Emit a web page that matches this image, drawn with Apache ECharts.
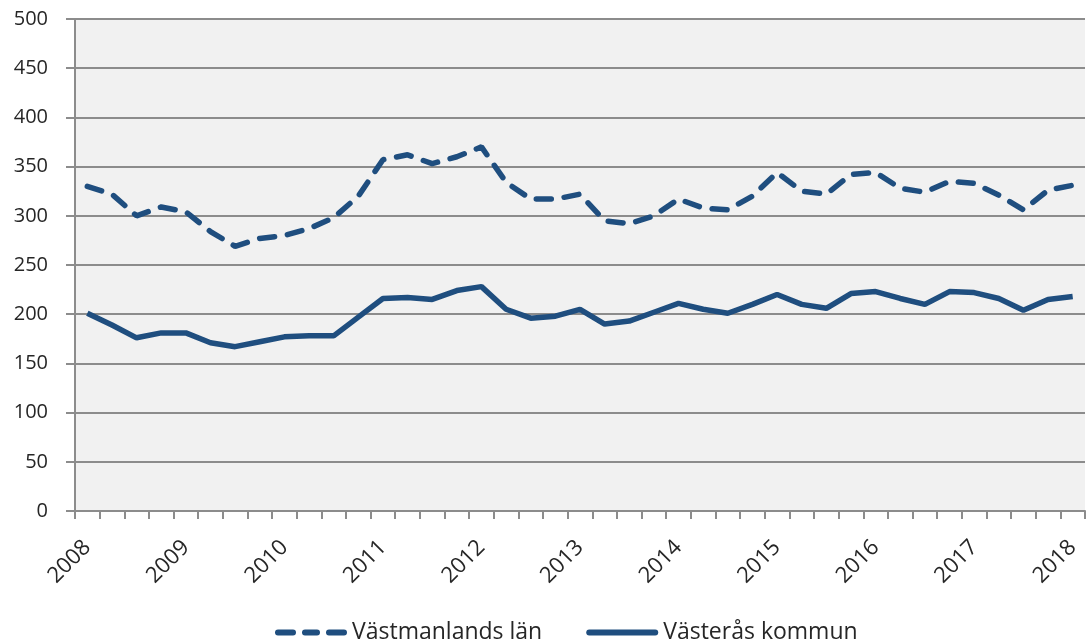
<!DOCTYPE html>
<html>
<head>
<meta charset="utf-8">
<script src="https://cdn.jsdelivr.net/npm/echarts@6/dist/echarts.min.js"></script>
<style>
html,body{margin:0;padding:0;background:#fff;}
#chart{width:1086px;height:640px;}
</style>
</head>
<body>
<div id="chart"></div>
<script>
const years = [2008, 2009, 2010, 2011, 2012, 2013, 2014, 2015, 2016, 2017, 2018];
const quarters = [];
for (const y of years) {
  for (let q = 1; q <= 4; q++) {
    if (y === 2018 && q > 1) break;
    quarters.push(y + ' K' + q);
  }
}
const vastmanland = [330, 322, 300, 309, 304, 284, 269, 277, 280, 287, 298, 320, 357, 362, 353, 360, 370, 334, 317, 317, 322, 295, 292, 300, 317, 308, 306, 320, 344, 325, 322, 342, 344, 328, 324, 335, 333, 321, 306, 326, 331];
const vasteras = [201, 189, 176, 181, 181, 171, 167, 172, 177, 178, 178, 197, 216, 217, 215, 224, 228, 205, 196, 198, 205, 190, 193, 202, 211, 205, 201, 210, 220, 210, 206, 221, 223, 216, 210, 223, 222, 216, 204, 215, 218];
const yTicks = {min: 0, max: 500, interval: 50};

const chart = echarts.init(document.getElementById('chart'));
const lineColor = '#1f4e7f';
const fontFam = 'Open Sans';
const textColor = '#262626';
const dashIcon = 'path://M3,0h15a3,3 0 0 1 0,6h-15a3,3 0 0 1 0,-6z M30,0h12a3,3 0 0 1 0,6h-12a3,3 0 0 1 0,-6z M54,0h15a3,3 0 0 1 0,6h-15a3,3 0 0 1 0,-6z';
const solidIcon = 'path://M3,0h66a3,3 0 0 1 0,6h-66a3,3 0 0 1 0,-6z';
chart.setOption({
  animation: false,
  grid: {left: 75, right: 1, top: 19, bottom: 129, show: true, backgroundColor: '#f1f1f1', borderWidth: 0},
  legend: {
    top: 616,
    left: 270,
    itemWidth: 72,
    itemHeight: 6,
    itemGap: 44,
    textStyle: {fontFamily: fontFam, fontSize: 23, color: textColor},
    data: [
      {name: 'Västmanlands län', icon: dashIcon},
      {name: 'Västerås kommun', icon: solidIcon}
    ]
  },
  xAxis: {
    type: 'category',
    data: quarters,
    boundaryGap: true,
    axisLine: {lineStyle: {color: '#8c8c8c', width: 2}},
    axisTick: {show: true, interval: 0, length: 8, lineStyle: {color: '#8c8c8c', width: 2}},
    axisLabel: {
      interval: 3,
      rotate: 45,
      margin: 33,
      fontFamily: fontFam,
      fontSize: 22,
      color: textColor,
      formatter: v => v.split(' ')[0]
    },
    splitLine: {show: false}
  },
  yAxis: {
    type: 'value',
    min: yTicks.min,
    max: yTicks.max,
    interval: yTicks.interval,
    axisLine: {show: true, lineStyle: {color: '#8c8c8c', width: 2}},
    axisTick: {show: true, length: 9, lineStyle: {color: '#8c8c8c', width: 2}},
    axisLabel: {fontFamily: fontFam, fontSize: 20, color: textColor, margin: 27},
    splitLine: {lineStyle: {color: '#8c8c8c', width: 2}}
  },
  series: [
    {
      name: 'Västmanlands län',
      type: 'line',
      data: vastmanland,
      symbol: 'none',
      color: lineColor,
      lineStyle: {color: lineColor, width: 5.5, type: [15, 13], cap: 'round'}
    },
    {
      name: 'Västerås kommun',
      type: 'line',
      data: vasteras,
      symbol: 'none',
      color: lineColor,
      lineStyle: {color: lineColor, width: 5.5}
    }
  ]
});
</script>
</body>
</html>
